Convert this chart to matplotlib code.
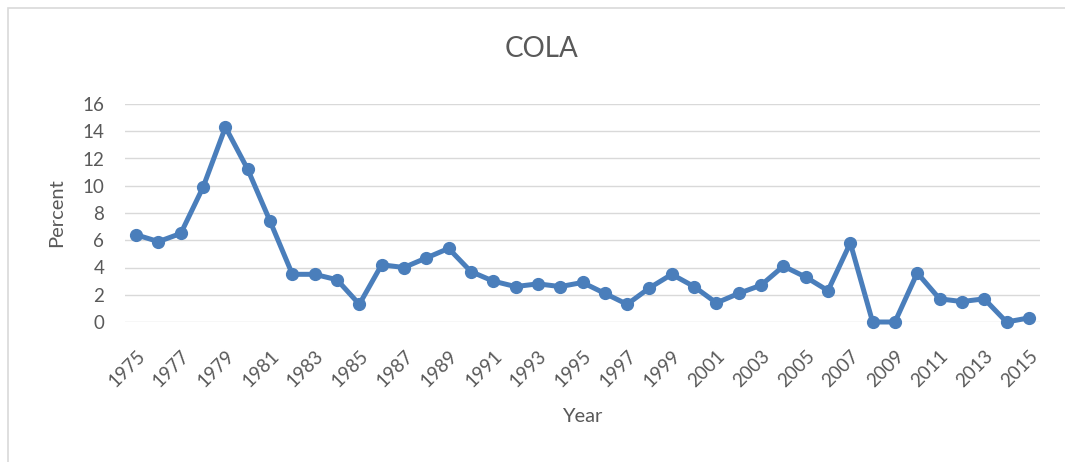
import matplotlib
matplotlib.use("Agg")
import matplotlib.pyplot as plt
from matplotlib.patches import Rectangle

years = list(range(1975, 2016))
cola = [6.4, 5.9, 6.5, 9.9, 14.3, 11.2, 7.4, 3.5, 3.5, 3.1,
        1.3, 4.2, 4.0, 4.7, 5.4, 3.7, 3.0, 2.6, 2.8, 2.6,
        2.9, 2.1, 1.3, 2.5, 3.5, 2.6, 1.4, 2.1, 2.7, 4.1,
        3.3, 2.3, 5.8, 0.0, 0.0, 3.6, 1.7, 1.5, 1.7, 0.0, 0.3]
yticks = [0, 2, 4, 6, 8, 10, 12, 14, 16]

plt.rcParams['font.family'] = ['Lato', 'DejaVu Sans']
txt = '#595959'

fig = plt.figure(figsize=(10.65, 4.62), dpi=100)
fig.patches.append(Rectangle((8/1065, -0.01), 1.1, 1 - 8/462 + 0.01,
                             transform=fig.transFigure, fill=False,
                             edgecolor='#d9d9d9', linewidth=1.2))
ax = fig.add_axes([125/1065, 1 - 322/462, (1040 - 125)/1065, (322 - 104)/462])

x = list(range(len(years)))
ax.plot(x, cola, color='#4a7ebb', linewidth=3.6, marker='o', markersize=8.5,
        solid_joinstyle='round', zorder=3, clip_on=False)

ax.set_xlim(-0.5, len(years) - 0.5)
ax.set_ylim(0, 16)
ax.set_yticks(yticks)
ax.set_yticklabels([str(v) for v in yticks], color=txt, fontsize=13.5)
ax.set_xticks(x[::2])
ax.set_xticklabels([str(y) for y in years[::2]], rotation=45, ha='right',
                   rotation_mode='anchor', color=txt, fontsize=13.5)
ax.tick_params(axis='y', length=0, pad=15)
ax.tick_params(axis='x', length=0, pad=18)
ax.grid(axis='y', color='#d9d9d9', linewidth=1)
ax.set_axisbelow(True)
for s in ax.spines.values():
    s.set_visible(False)

fig.text(57/1065, 1 - 213/462, 'Percent', rotation=90, ha='center', va='center',
         color=txt, fontsize=14.5)
fig.text(582/1065, 1 - 417/462, 'Year', ha='center', va='center',
         color=txt, fontsize=14.5)
fig.text(542/1065, 1 - 49/462, 'COLA', ha='center', va='center',
         color=txt, fontsize=20)

fig.savefig('out.png', dpi=100)
